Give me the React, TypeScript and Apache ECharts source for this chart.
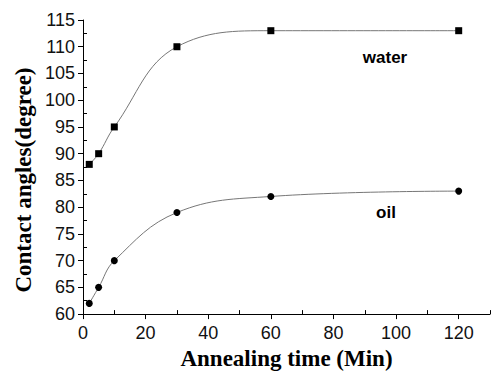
import React, { useEffect, useRef } from "react";
import * as echarts from "echarts";

const timeMin = [2, 5, 10, 30, 60, 120];
const waterAngles = [88, 90, 95, 110, 113, 113];
const oilAngles = [62, 65, 70, 79, 82, 83];
const xTickValues = [0, 20, 40, 60, 80, 100, 120];
const xMinorValues = [10, 30, 50, 70, 90, 110, 130];
const yMinorValues = [62.5, 67.5, 72.5, 77.5, 82.5, 87.5, 92.5, 97.5, 102.5, 107.5, 112.5];

export default function App() {
  const ref = useRef<HTMLDivElement>(null);
  useEffect(() => {
    if (!ref.current) return;
    const chart = echarts.init(ref.current, null, { renderer: "svg" });
    const water = timeMin.map((t, i) => [t, waterAngles[i]]);
    const oil = timeMin.map((t, i) => [t, oilAngles[i]]);
    const axisLineStyle = { color: "#000", width: 1 };
    chart.setOption({
      animation: false,
      backgroundColor: "#fff",
      grid: { left: 83, right: 1, top: 20, bottom: 59, containLabel: false },
      xAxis: [
        {
          type: "value",
          min: 0,
          max: 130,
          interval: 20,
          splitLine: { show: false },
          axisLine: { show: true, lineStyle: axisLineStyle },
          axisTick: { show: true, length: 5, inside: false, customValues: xTickValues, lineStyle: axisLineStyle },
          axisLabel: {
            customValues: xTickValues,
            margin: 10,
            fontFamily: "Liberation Sans, Arial, sans-serif",
            fontSize: 18,
            color: "#111",
          },
          name: "Annealing time (Min)",
          nameLocation: "middle",
          nameGap: 32,
          nameTextStyle: {
            fontFamily: "Liberation Serif, Times New Roman, serif",
            fontWeight: "bold",
            fontSize: 23,
            color: "#000",
          },
        },
        {
          type: "value",
          min: 0,
          max: 130,
          position: "bottom",
          splitLine: { show: false },
          axisLine: { show: false },
          axisTick: { show: true, inside: true, length: 4, customValues: xMinorValues, lineStyle: axisLineStyle },
          axisLabel: { show: false },
        },
      ],
      yAxis: [
        {
          type: "value",
          min: 60,
          max: 115,
          interval: 5,
          splitLine: { show: false },
          axisLine: { show: true, lineStyle: axisLineStyle },
          axisTick: { show: true, length: 5, inside: false, lineStyle: axisLineStyle },
          axisLabel: {
            margin: 8,
            fontFamily: "Liberation Sans, Arial, sans-serif",
            fontSize: 18,
            color: "#111",
          },
        },
        {
          type: "value",
          min: 60,
          max: 115,
          position: "left",
          splitLine: { show: false },
          axisLine: { show: false },
          axisTick: { show: true, inside: true, length: 4, customValues: yMinorValues, lineStyle: axisLineStyle },
          axisLabel: { show: false },
        },
      ],
      graphic: [
        {
          type: "text",
          x: 23,
          y: 180,
          rotation: Math.PI / 2,
          style: {
            text: "Contact angles(degree)",
            fontFamily: "Liberation Serif, Times New Roman, serif",
            fontWeight: "bold",
            fontSize: 23,
            fill: "#000",
            align: "center",
            verticalAlign: "middle",
          },
        },
        {
          type: "text",
          x: 385,
          y: 57,
          style: {
            text: "water",
            fontFamily: "Liberation Sans, Arial, sans-serif",
            fontWeight: "bold",
            fontSize: 17,
            fill: "#000",
            align: "center",
            verticalAlign: "middle",
          },
        },
        {
          type: "text",
          x: 386,
          y: 212,
          style: {
            text: "oil",
            fontFamily: "Liberation Sans, Arial, sans-serif",
            fontWeight: "bold",
            fontSize: 17,
            fill: "#000",
            align: "center",
            verticalAlign: "middle",
          },
        },
      ],
      series: [
        {
          name: "water",
          type: "line",
          data: water,
          smooth: 0.4,
          symbol: "rect",
          symbolSize: 7,
          itemStyle: { color: "#000" },
          lineStyle: { color: "#777", width: 1 },
        },
        {
          name: "oil",
          type: "line",
          data: oil,
          smooth: 0.4,
          symbol: "circle",
          symbolSize: 7,
          itemStyle: { color: "#000" },
          lineStyle: { color: "#777", width: 1 },
        },
      ],
    });
    return () => chart.dispose();
  }, []);
  return <div ref={ref} style={{ width: 491, height: 375, position: "absolute", left: 0, top: 0 }} />;
}
